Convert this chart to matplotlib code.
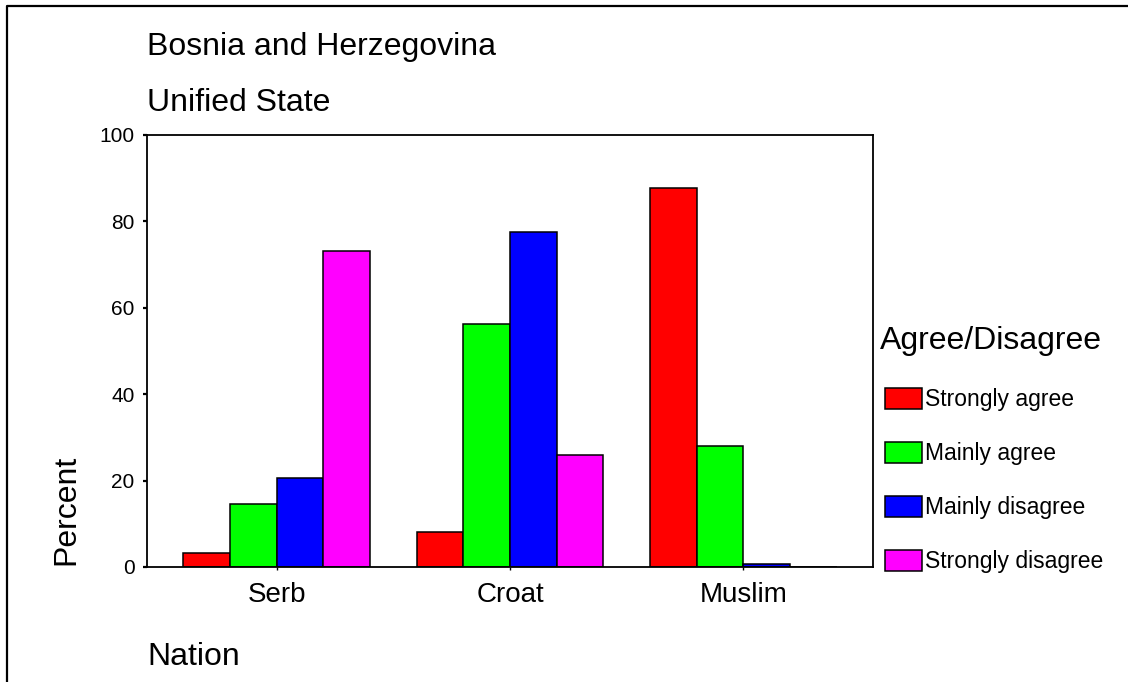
import numpy as np
import matplotlib
matplotlib.use("Agg")
import matplotlib.pyplot as plt
from matplotlib.lines import Line2D

plt.rcParams['font.family'] = ['Liberation Sans', 'DejaVu Sans']

# data (percent)
nations = ["Serb", "Croat", "Muslim"]
answers = ["Strongly agree", "Mainly agree", "Mainly disagree", "Strongly disagree"]
strongly_agree = [3.2, 8.2, 87.7]
mainly_agree = [14.5, 56.2, 28.1]
mainly_disagree = [20.7, 77.5, 0.7]
strongly_disagree = [73.2, 25.9, 0.1]
yticks = [0, 20, 40, 60, 80, 100]

series = [strongly_agree, mainly_agree, mainly_disagree, strongly_disagree]
colors = ["#FF0000", "#00FF00", "#0000FF", "#FF00FF"]

W, H = 1128, 682
fig = plt.figure(figsize=(W / 100, H / 100), dpi=100)
ax = fig.add_axes([147 / W, 1 - 567 / H, (873 - 147) / W, (567 - 135) / H])

x = np.arange(len(nations))
bw = 0.2
bars = []
for i, (vals, c) in enumerate(zip(series, colors)):
    b = ax.bar(x + (i - 1.5) * bw, vals, width=bw, color=c,
               edgecolor="black", linewidth=1.1, label=answers[i])
    bars.append(b)

ax.set_xlim(-0.555, 2.555)
ax.set_ylim(0, 100)
ax.set_yticks(yticks)
ax.set_xticks(x)
ax.set_xticklabels(nations, fontsize=20)
ax.tick_params(axis="y", labelsize=15, length=3, width=1.6, pad=6)
ax.tick_params(axis="x", length=2.5, width=1, pad=8)
for s in ax.spines.values():
    s.set_linewidth(1.3)

# titles and axis names
fig.text(147 / W, 1 - 55 / H, "Bosnia and Herzegovina", fontsize=23, va="baseline", ha="left")
fig.text(147 / W, 1 - 111 / H, "Unified State", fontsize=23, va="baseline", ha="left")
fig.text(147 / W, 1 - 665 / H, "Nation", fontsize=23, va="baseline", ha="left")
fig.text(66 / W, 1 - 510 / H, "Percent", fontsize=23, rotation=90, va="center", ha="center")

# legend (title drawn separately so the entries sit indented)
fig.text(880 / W, 1 - 349 / H, "Agree/Disagree", fontsize=23, va="baseline", ha="left")
leg = fig.legend(handles=bars, labels=answers, loc="upper left",
                 bbox_to_anchor=(885 / W, 1 - 388 / H), frameon=False,
                 fontsize=16.5,
                 handlelength=1.6, handleheight=1.05, handletextpad=0.13,
                 labelspacing=1.33, borderpad=0, borderaxespad=0)

# outer frame (left and top edges)
fig.add_artist(Line2D([7 / W, 7 / W, 1], [0, 1 - 6 / H, 1 - 6 / H],
                      transform=fig.transFigure, color="black", linewidth=1.6))

fig.savefig("out.png", dpi=100)
